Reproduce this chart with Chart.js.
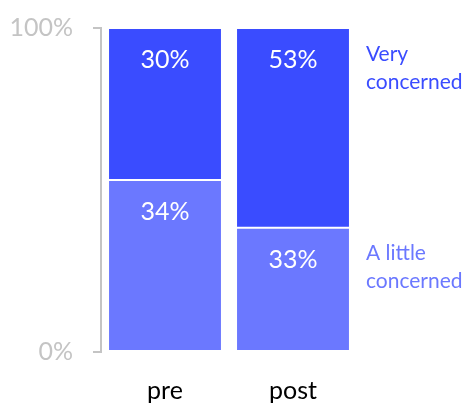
<!DOCTYPE html>
<html lang="en">
<head>
  <meta charset="UTF-8" />
  <title>Concern pre / post</title>
  <script src="https://cdn.jsdelivr.net/npm/chart.js"></script>
  <style>
    body { margin: 0; background: #ffffff; }
    #wrap { width: 470px; height: 403px; }
  </style>
</head>
<body>
<div id="wrap"><canvas id="chart" width="470" height="403"></canvas></div>
<script>
  const categories = ['pre', 'post'];
  const littleConcerned = [34, 33];
  const veryConcerned = [30, 53];
  const seriesNames = [['A little', 'concerned'], ['Very', 'concerned']];
  const yTicks = [0, 100];

  const darkBlue = '#3a4cff';
  const lightBlue = '#6b78ff';
  const grey = '#c4c4c4';

  // each bar is stretched to 100% of the people who answered
  const totals = categories.map((c, i) => littleConcerned[i] + veryConcerned[i]);
  const share = arr => arr.map((v, i) => v / totals[i] * 100);

  // y tick text drawn by hand so it doesn't push the plot area down
  const yLabels = {
    id: 'yLabels',
    afterDraw(chart) {
      const ctx = chart.ctx;
      const y = chart.scales.y;
      ctx.save();
      ctx.fillStyle = grey;
      ctx.font = '25px Lato';
      ctx.textAlign = 'right';
      ctx.textBaseline = 'middle';
      yTicks.forEach(v => ctx.fillText(v + '%', y.right - 28, y.getPixelForValue(v)));
      ctx.restore();
    }
  };

  // percent text near the top of every segment, series names to the right of the last bar
  const segmentLabels = {
    id: 'segmentLabels',
    afterDatasetsDraw(chart) {
      const ctx = chart.ctx;
      ctx.save();
      chart.data.datasets.forEach((ds, di) => {
        const meta = chart.getDatasetMeta(di);
        meta.data.forEach((bar, i) => {
          ctx.fillStyle = '#ffffff';
          ctx.font = '25px Lato';
          ctx.textAlign = 'center';
          ctx.textBaseline = 'middle';
          ctx.fillText(ds.raw[i] + '%', bar.x, bar.y + 32);
        });
        const last = meta.data[meta.data.length - 1];
        ctx.fillStyle = ds.backgroundColor;
        ctx.font = '21px Lato';
        ctx.textAlign = 'left';
        seriesNames[di].forEach((line, li) => {
          ctx.fillText(line, last.x + last.width / 2 + 16, last.y + 26 + li * 28);
        });
      });
      ctx.restore();
    }
  };

  new Chart(document.getElementById('chart'), {
    type: 'bar',
    data: {
      labels: categories,
      datasets: [
        {
          label: 'A little concerned',
          raw: littleConcerned,
          data: share(littleConcerned),
          backgroundColor: lightBlue,
          borderColor: '#ffffff',
          borderWidth: 1,
          borderSkipped: false
        },
        {
          label: 'Very concerned',
          raw: veryConcerned,
          data: share(veryConcerned),
          backgroundColor: darkBlue,
          borderColor: '#ffffff',
          borderWidth: 1,
          borderSkipped: false
        }
      ]
    },
    options: {
      responsive: false,
      animation: false,
      layout: { padding: { top: 28, right: 113, bottom: 0, left: 0 } },
      plugins: { legend: { display: false }, tooltip: { enabled: false } },
      datasets: { bar: { barPercentage: 0.89, categoryPercentage: 1 } },
      scales: {
        x: {
          stacked: true,
          afterFit: axis => { axis.height = 51; },
          grid: { display: false },
          border: { display: false },
          ticks: { color: '#000000', font: { family: 'Lato', size: 25 }, padding: 16 }
        },
        y: {
          stacked: true,
          min: 0,
          max: 100,
          afterBuildTicks: axis => { axis.ticks = yTicks.map(v => ({ value: v })); },
          afterFit: axis => { axis.width = 101; },
          grid: { drawOnChartArea: false, tickLength: 8, color: grey, lineWidth: 2 },
          border: { color: grey, width: 2 },
          ticks: { display: false }
        }
      }
    },
    plugins: [segmentLabels, yLabels]
  });
</script>
</body>
</html>
